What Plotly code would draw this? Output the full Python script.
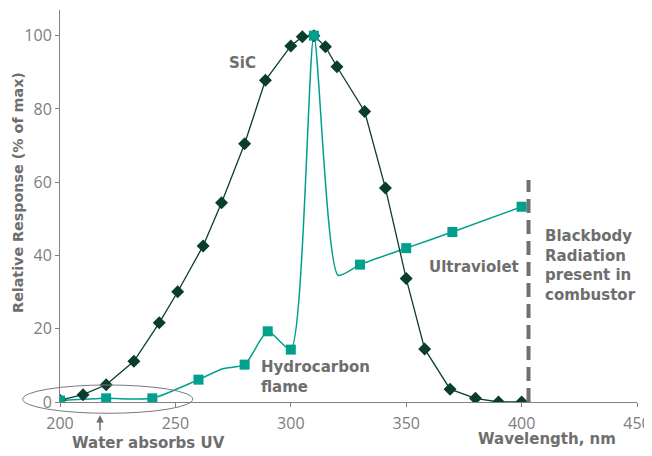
import plotly.graph_objects as go

# ---- data ----
sic_wavelength = [200, 210, 220, 232, 243, 251, 262, 270, 280, 289, 300, 305, 310,
                  315, 320, 332, 341, 350, 358, 369, 380, 390, 400]
sic_response = [0.5, 2.0, 4.7, 11.1, 21.6, 30.1, 42.6, 54.4, 70.5, 87.8, 97.2, 99.7, 100,
                97.0, 91.5, 79.3, 58.4, 33.7, 14.5, 3.5, 1.0, 0.0, 0.0]

uv_wavelength = [200, 220, 240, 260, 270.5, 280, 290, 300, 310, 320.5, 330, 350, 370, 400]
uv_response = [0.4, 1.0, 1.0, 6.1, 9.1, 10.2, 19.3, 14.3, 100, 34.6, 37.5, 42.0, 46.4, 53.3]
uv_marked = [True, True, True, True, False, True, True, True, True, False, True, True, True, True]

x_ticks = [200, 250, 300, 350, 400, 450]
y_ticks = [0, 20, 40, 60, 80, 100]

blackbody_x = 403
blackbody_top = 60.6

SIC_COLOR = "#0a3d2c"
UV_COLOR = "#00a08c"
GRAY = "#6e6e6e"
TICK_GRAY = "#7d7d7d"
TICK_FONT = "Open Sans"
ANN_FONT = "DejaVu Sans"

fig = go.Figure()

fig.add_trace(go.Scatter(
    x=uv_wavelength, y=uv_response, mode="lines",
    line=dict(color=UV_COLOR, width=1.5, shape="spline", smoothing=0.6),
    hoverinfo="skip", showlegend=False))

fig.add_trace(go.Scatter(
    x=sic_wavelength, y=sic_response, mode="lines+markers",
    line=dict(color=SIC_COLOR, width=1.3),
    marker=dict(symbol="diamond", size=10, color=SIC_COLOR),
    showlegend=False))

fig.add_trace(go.Scatter(
    x=[w for w, m in zip(uv_wavelength, uv_marked) if m],
    y=[r for r, m in zip(uv_response, uv_marked) if m],
    mode="markers",
    marker=dict(symbol="square", size=10, color=UV_COLOR),
    showlegend=False))

# dashed blackbody line
fig.add_shape(type="line", xref="x", yref="y",
              x0=blackbody_x, x1=blackbody_x, y0=0, y1=blackbody_top,
              line=dict(color="#707070", width=4, dash="14px,7px"))

# ellipse around low-wavelength region
fig.add_shape(type="circle", xref="paper", yref="paper",
              x0=-0.0646, x1=0.230, y0=-0.0288, y1=0.0434,
              line=dict(color="#7a7a7a", width=1))

ann_font = dict(family=ANN_FONT, size=15, color=GRAY, weight="bold")


def note(text, x, y, ref, xanchor="center", font=ann_font, **kw):
    fig.add_annotation(text=text, x=x, y=y, xref=ref[0], yref=ref[1],
                       showarrow=False, xanchor=xanchor, yanchor="middle",
                       font=font, **kw)


note("SiC", 279.2, 92.4, ("x", "y"))
note("Hydrocarbon<br>flame", 286.4, 6.9, ("x", "y"), xanchor="left", align="left")
note("Ultraviolet", 379.5, 36.9, ("x", "y"))
note("Blackbody<br>Radiation<br>present in<br>combustor", 409.4, 37.2, ("x", "y"),
     xanchor="left", align="left")
note("Wavelength, nm", 0.8435, -0.0952, ("paper", "paper"))
note("Water absorbs UV", 0.153, -0.105, ("paper", "paper"))
note("Relative Response (% of max)", -0.0728, 0.536, ("paper", "paper"),
     font=dict(ann_font, size=14.3), textangle=-90)

fig.add_annotation(text="", x=0.0693, y=-0.0332, xref="paper", yref="paper",
                   ax=0, ay=17, showarrow=True, arrowhead=2, arrowsize=1,
                   arrowwidth=1.5, arrowcolor="#707070")

fig.update_xaxes(range=[200, 450], tickvals=x_ticks, showgrid=False, zeroline=False,
                 showline=True, linecolor="#808080", linewidth=1,
                 ticks="outside", ticklen=4, tickcolor="#808080", ticklabelstandoff=3,
                 tickfont=dict(family=TICK_FONT, size=16, color=TICK_GRAY))
fig.update_yaxes(range=[0, 107], tickvals=y_ticks, showgrid=False, zeroline=False,
                 showline=True, linecolor="#808080", linewidth=1,
                 ticks="outside", ticklen=4, tickcolor="#808080",
                 tickfont=dict(family=TICK_FONT, size=16, color=TICK_GRAY))

# page body has an 8px margin, so the figure is offset to compensate
fig.update_layout(width=652, height=456, margin=dict(l=52, r=23, t=2, b=62),
                  plot_bgcolor="white", paper_bgcolor="white",
                  font=dict(family=TICK_FONT))

fig.write_html("out.html")
